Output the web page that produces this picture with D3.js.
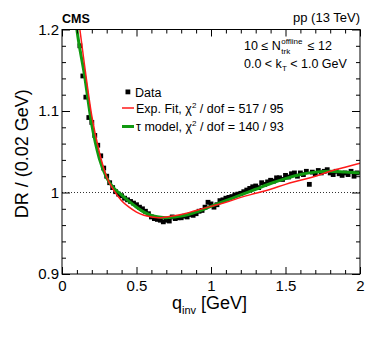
<!DOCTYPE html>
<html>
<head>
<meta charset="utf-8">
<script src="https://cdn.jsdelivr.net/npm/d3@7"></script>
<style>
  body { margin: 0; background: #fff; }
  svg { font-family: 'Liberation Sans', Arial, sans-serif; }
</style>
</head>
<body>
<svg id="chart" width="374" height="338"></svg>
<script>
const qData = [0.12,0.14,0.16,0.18,0.20,0.22,0.24,0.26,0.28,0.30,0.32,0.34,0.36,0.38,0.40,0.42,0.44,0.46,0.48,0.50,
    0.52,0.54,0.56,0.58,0.60,0.62,0.64,0.66,0.68,0.70,0.72,0.74,0.76,0.78,0.80,0.82,0.84,0.86,0.88,0.90,
    0.92,0.94,0.96,0.98,1.00,1.02,1.04,1.06,1.08,1.10,1.12,1.14,1.16,1.18,1.20,1.22,1.24,1.26,1.28,1.30,
    1.32,1.34,1.36,1.38,1.40,1.42,1.44,1.46,1.48,1.50,1.52,1.54,1.56,1.58,1.60,1.62,1.64,1.66,1.68,1.70,
    1.72,1.74,1.76,1.78,1.80,1.82,1.84,1.86,1.88,1.90,1.92,1.94,1.96,1.98];
const drData = [1.180,1.143,1.117,1.092,1.086,1.070,1.058,1.045,1.030,1.020,1.012,1.006,1.001,0.998,0.996,0.993,0.991,0.989,0.987,0.985,
    0.982,0.980,0.977,0.974,0.970,0.968,0.967,0.966,0.964,0.966,0.965,0.970,0.968,0.969,0.969,0.971,0.970,0.973,0.972,0.974,
    0.977,0.978,0.982,0.988,0.986,0.982,0.985,0.990,0.991,0.993,0.994,0.995,0.997,0.998,0.999,1.001,1.003,1.005,1.007,1.008,
    1.006,1.012,1.010,1.013,1.015,1.014,1.018,1.018,1.016,1.021,1.019,1.023,1.024,1.020,1.024,1.022,1.026,1.010,1.025,1.023,
    1.027,1.024,1.026,1.028,1.024,1.022,1.026,1.023,1.021,1.024,1.022,1.026,1.020,1.024];

// fit curves
const expQ = [0.11,0.12,0.15,0.20,0.25,0.30,0.35,0.40,0.45,0.50,0.55,0.60,0.65,0.70,0.80,0.90,1.00,1.10,1.20,1.30,1.40,1.50,1.60,1.70,1.80,1.90,2.00];
const expFit = [1.215,1.200,1.158,1.094,1.050,1.019,1.002,0.990,0.982,0.976,0.972,0.970,0.969,0.970,0.973,0.978,0.983,0.988,0.994,0.999,1.004,1.010,1.015,1.020,1.026,1.031,1.036];
const tauQ = [0.09,0.10,0.15,0.20,0.25,0.30,0.35,0.40,0.45,0.50,0.55,0.60,0.65,0.70,0.75,0.80,0.90,1.00,1.10,1.20,1.30,1.40,1.50,1.60,1.70,1.80,1.90,2.00];
const tauModel = [1.215,1.200,1.145,1.083,1.042,1.018,1.005,0.997,0.989,0.982,0.976,0.972,0.970,0.969,0.970,0.971,0.976,0.983,0.990,0.997,1.004,1.011,1.017,1.022,1.025,1.026,1.025,1.024];

const xMajor = [0, 0.5, 1, 1.5, 2];
const xLabels = ['0', '0.5', '1', '1.5', '2'];
const yMajor = [0.9, 1.0, 1.1, 1.2];
const yLabels = ['0.9', '1', '1.1', '1.2'];

const svg = d3.select('#chart');
const mLeft = 62, mRight = 360, mTop = 29.5, mBottom = 274;

const x = d3.scaleLinear().domain([0, 2]).range([mLeft, mRight]);
const y = d3.scaleLinear().domain([0.9, 1.2]).range([mBottom, mTop]);

svg.append('defs').append('clipPath').attr('id', 'plot')
    .append('rect').attr('x', mLeft).attr('y', mTop)
    .attr('width', mRight - mLeft).attr('height', mBottom - mTop);

// reference line at 1
svg.append('line')
    .attr('x1', x(0)).attr('x2', x(2))
    .attr('y1', y(1)).attr('y2', y(1))
    .attr('stroke', '#333').attr('stroke-width', 1)
    .attr('stroke-dasharray', '1,2');

const plot = svg.append('g').attr('clip-path', 'url(#plot)');

// data points
plot.selectAll('rect.pt')
    .data(qData)
    .enter().append('rect')
    .attr('class', 'pt')
    .attr('x', d => x(d) - 2.4)
    .attr('y', (d, i) => y(drData[i]) - 2.4)
    .attr('width', 4.8).attr('height', 4.8)
    .attr('fill', '#000');

const line = d3.line().curve(d3.curveMonotoneX);

plot.append('path')
    .attr('d', line(tauQ.map((q, i) => [x(q), y(tauModel[i])])))
    .attr('fill', 'none').attr('stroke', '#119911').attr('stroke-width', 3);

plot.append('path')
    .attr('d', line(expQ.map((q, i) => [x(q), y(expFit[i])])))
    .attr('fill', 'none').attr('stroke', '#ff1a1a').attr('stroke-width', 1.5);

// axes with inward ticks
const xMinor = d3.range(0, 2.0001, 0.1).filter(v => Math.abs(v * 2 - Math.round(v * 2)) > 1e-6);
const yMinor = d3.range(0.9, 1.2001, 0.02).filter(v => Math.abs(v * 10 - Math.round(v * 10)) > 1e-6);

svg.append('g').attr('transform', `translate(0,${mBottom})`)
    .call(d3.axisBottom(x).tickValues(xMajor).tickSize(-7).tickPadding(6)
        .tickFormat((d, i) => xLabels[i]));
svg.append('g').attr('transform', `translate(0,${mTop})`)
    .call(d3.axisTop(x).tickValues(xMajor).tickSize(-7).tickFormat(''));
svg.append('g').attr('transform', `translate(${mLeft},0)`)
    .call(d3.axisLeft(y).tickValues(yMajor).tickSize(-8).tickPadding(3)
        .tickFormat((d, i) => yLabels[i]));
svg.append('g').attr('transform', `translate(${mRight},0)`)
    .call(d3.axisRight(y).tickValues(yMajor).tickSize(-8).tickFormat(''));

svg.append('g').attr('transform', `translate(0,${mBottom})`)
    .call(d3.axisBottom(x).tickValues(xMinor).tickSize(-4).tickFormat(''));
svg.append('g').attr('transform', `translate(0,${mTop})`)
    .call(d3.axisTop(x).tickValues(xMinor).tickSize(-4).tickFormat(''));
svg.append('g').attr('transform', `translate(${mLeft},0)`)
    .call(d3.axisLeft(y).tickValues(yMinor).tickSize(-4).tickFormat(''));
svg.append('g').attr('transform', `translate(${mRight},0)`)
    .call(d3.axisRight(y).tickValues(yMinor).tickSize(-4).tickFormat(''));

svg.selectAll('.domain').remove();
svg.selectAll('.tick line').attr('stroke', '#000');
svg.selectAll('.tick text').attr('font-size', 15).attr('fill', '#000')
    .attr('font-family', "'Liberation Sans', Arial, sans-serif");

svg.append('rect')
    .attr('x', mLeft).attr('y', mTop)
    .attr('width', mRight - mLeft).attr('height', mBottom - mTop)
    .attr('fill', 'none').attr('stroke', '#000').attr('stroke-width', 1);

// axis titles
svg.append('text')
    .attr('transform', `translate(28,${(mTop + mBottom) / 2 + 2}) rotate(-90)`)
    .attr('text-anchor', 'middle')
    .attr('font-size', 18)
    .text('DR / (0.02 GeV)');

const xt = svg.append('text').attr('x', 172).attr('y', 309).attr('font-size', 18);
xt.append('tspan').text('q');
xt.append('tspan').attr('font-size', 11).attr('dy', 5).text('inv');
xt.append('tspan').attr('dy', -5).text(' [GeV]');

// header labels
svg.append('text').attr('x', 62).attr('y', 23)
    .attr('font-size', 12.5).attr('font-weight', 'bold').text('CMS');
svg.append('text').attr('x', 360).attr('y', 22)
    .attr('text-anchor', 'end').attr('font-size', 13).text('pp (13 TeV)');

// selection text
const sel = svg.append('text').attr('x', 244).attr('y', 50).attr('font-size', 12.5);
sel.append('tspan').text('10 \u2264 N');
const nEnd = 244 + sel.node().getComputedTextLength();
svg.append('text').attr('x', nEnd + 0.5).attr('y', 44).attr('font-size', 8).text('offline');
svg.append('text').attr('x', nEnd + 0.5).attr('y', 54).attr('font-size', 8).text('trk');
svg.append('text').attr('x', nEnd + 27).attr('y', 50).attr('font-size', 12.5).text('\u2264 12');

const kt = svg.append('text').attr('x', 244).attr('y', 68).attr('font-size', 12.5);
kt.append('tspan').text('0.0 < k');
kt.append('tspan').attr('font-size', 8).attr('dy', 3).text('T');
kt.append('tspan').attr('dy', -3).text(' < 1.0 GeV');

// legend
const legend = svg.append('g').attr('font-size', 12.5);
legend.append('rect').attr('x', 125.5).attr('y', 89.5).attr('width', 4.8).attr('height', 4.8).attr('fill', '#000');
legend.append('text').attr('x', 135).attr('y', 97).text('Data');

legend.append('line').attr('x1', 122).attr('x2', 134).attr('y1', 108).attr('y2', 108)
    .attr('stroke', '#ff1a1a').attr('stroke-width', 1.5);
const l1 = legend.append('text').attr('x', 136).attr('y', 113);
l1.append('tspan').text('Exp. Fit, \u03c7');
l1.append('tspan').attr('font-size', 8).attr('dy', -5).text('2');
l1.append('tspan').attr('dy', 5).text(' / dof = 517 / 95');

legend.append('line').attr('x1', 122).attr('x2', 134).attr('y1', 126.5).attr('y2', 126.5)
    .attr('stroke', '#119911').attr('stroke-width', 3);
const l2 = legend.append('text').attr('x', 136).attr('y', 131);
l2.append('tspan').text('\u03c4 model, \u03c7');
l2.append('tspan').attr('font-size', 8).attr('dy', -5).text('2');
l2.append('tspan').attr('dy', 5).text(' / dof = 140 / 93');
</script>
</body>
</html>
